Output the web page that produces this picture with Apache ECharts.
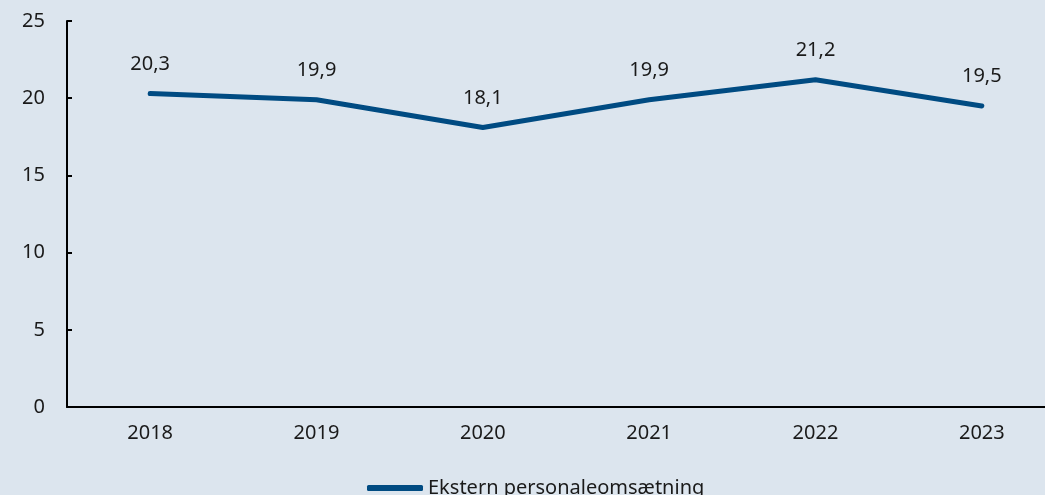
<!DOCTYPE html>
<html>
<head>
<meta charset="utf-8">
<script src="https://cdn.jsdelivr.net/npm/echarts@6/dist/echarts.min.js"></script>
<style>
    html, body { margin: 0; padding: 0; background: #dce5ee; }
    #chart { width: 1045px; height: 495px; }
</style>
</head>
<body>
<div id="chart"></div>
<script>
    // data
    var years = ['2018', '2019', '2020', '2021', '2022', '2023'];
    var turnover = [20.3, 19.9, 18.1, 19.9, 21.2, 19.5];
    var seriesName = 'Ekstern personaleomsætning';

    var myChart = echarts.init(document.getElementById('chart'));
    var font = 'Noto Sans';
    var option = {
        backgroundColor: '#dce5ee',
        animation: false,
        textStyle: {fontFamily: font, fontSize: 20, color: '#1a1a1a'},
        grid: {
            left: 67,
            right: -20,
            top: 21,
            bottom: 88,
            containLabel: false,
            outerBoundsMode: 'none'
        },
        legend: {
            left: 362,
            top: 473,
            icon: 'roundRect',
            itemWidth: 56,
            itemHeight: 6,
            textStyle: {fontFamily: font, fontSize: 20, color: '#1a1a1a'},
            data: [seriesName]
        },
        xAxis: {
            type: 'category',
            data: years,
            boundaryGap: true,
            axisLine: {lineStyle: {color: '#000', width: 2}},
            axisTick: {show: false},
            axisLabel: {margin: 16, fontFamily: font, fontSize: 20, color: '#1a1a1a'}
        },
        yAxis: {
            type: 'value',
            min: 0,
            max: 25,
            interval: 5,
            splitLine: {show: false},
            axisLine: {show: true, lineStyle: {color: '#000', width: 2}},
            axisTick: {show: true, inside: true, length: 5, lineStyle: {color: '#000', width: 2}},
            axisLabel: {margin: 22, fontFamily: font, fontSize: 20, color: '#1a1a1a'}
        },
        series: [
            {
                name: seriesName,
                type: 'line',
                data: turnover,
                symbol: 'circle',
                symbolSize: 1,
                showSymbol: true,
                lineStyle: {color: '#004b82', width: 5, cap: 'round', join: 'round'},
                itemStyle: {color: '#004b82'},
                label: {
                    show: true,
                    position: 'top',
                    distance: 19,
                    fontFamily: font,
                    fontSize: 20,
                    color: '#1a1a1a',
                    formatter: function (p) {
                        return p.value.toFixed(1).replace('.', ',');
                    }
                }
            }
        ]
    };
    myChart.setOption(option);
</script>
</body>
</html>
